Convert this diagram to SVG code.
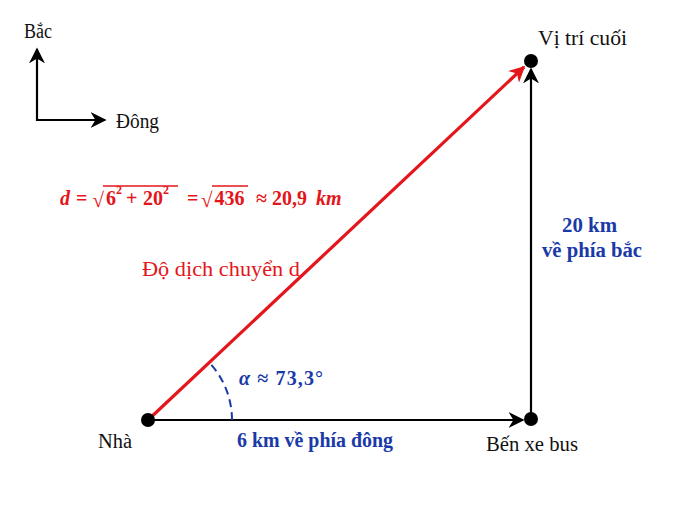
<svg xmlns="http://www.w3.org/2000/svg" width="693" height="519" viewBox="0 0 693 519">
<style>
text{font-family:"Liberation Serif","DejaVu Serif",serif;}
.lbl{font-size:20px;fill:#111;}
.blue{font-size:20px;fill:#1a3aa8;font-weight:bold;}
.red{fill:#e4161b;}
.f{font-size:20px;font-weight:bold;}
.sup{font-size:12px;font-weight:bold;}
.rad{font-size:21px;font-weight:normal;}
.blk{stroke:#000;stroke-width:2.2;fill:none;}
</style>
<defs>
<marker id="ahb" viewBox="0 0 10 10" refX="9" refY="5" markerWidth="16" markerHeight="16" markerUnits="userSpaceOnUse" orient="auto"><path d="M0,0 L10,5 L0,10 L3,5 Z" fill="#000"/></marker>
<marker id="ahr" viewBox="0 0 10 10" refX="9" refY="5" markerWidth="16" markerHeight="16" markerUnits="userSpaceOnUse" orient="auto"><path d="M0,0 L10,5 L0,10 L3,5 Z" fill="#e4161b"/></marker>
</defs>
<rect width="693" height="519" fill="#fff"/>
<g id="compass">
<line x1="37" y1="121" x2="37" y2="49" class="blk" marker-end="url(#ahb)"/>
<line x1="36" y1="120" x2="105" y2="120" class="blk" marker-end="url(#ahb)"/>
<text x="24" y="38" class="lbl" textLength="28" lengthAdjust="spacingAndGlyphs">Bắc</text>
<text x="116" y="128" class="lbl" textLength="43" lengthAdjust="spacingAndGlyphs">Đông</text>
</g>
<g id="connectors">
<line x1="148" y1="420" x2="523" y2="420" class="blk" marker-end="url(#ahb)"/>
<line x1="531" y1="419" x2="531" y2="69" class="blk" marker-end="url(#ahb)"/>
<line x1="148" y1="420" x2="524" y2="67" stroke="#e4161b" stroke-width="3.2" marker-end="url(#ahr)"/>
<path d="M232,420 A84,84 0 0 0 209.2,362.5" fill="none" stroke="#1a3aa8" stroke-width="2" stroke-dasharray="8,5"/>
</g>
<g id="nha">
<circle cx="148" cy="420" r="7" fill="#000"/>
<text x="98" y="448" class="lbl" textLength="34" lengthAdjust="spacingAndGlyphs">Nhà</text>
</g>
<g id="benxe">
<circle cx="531" cy="419" r="7" fill="#000"/>
<text x="486" y="451" class="lbl" textLength="92" lengthAdjust="spacingAndGlyphs">Bến xe bus</text>
</g>
<g id="vitri">
<circle cx="531" cy="61" r="7" fill="#000"/>
<text x="538" y="45" class="lbl" textLength="89" lengthAdjust="spacingAndGlyphs">Vị trí cuối</text>
</g>
<g id="labels">
<text x="237" y="447" class="blue" textLength="156" lengthAdjust="spacingAndGlyphs">6 km về phía đông</text>
<text x="562" y="232" class="blue" textLength="55" lengthAdjust="spacingAndGlyphs">20 km</text>
<text x="542" y="257" class="blue" textLength="100" lengthAdjust="spacingAndGlyphs">về phía bắc</text>
<text x="239" y="385" class="blue" textLength="84" lengthAdjust="spacing"><tspan font-style="italic">α</tspan> ≈ 73,3°</text>
<text x="142" y="276" class="red" font-size="20" textLength="158" lengthAdjust="spacingAndGlyphs">Độ dịch chuyển d</text>
</g>
<g id="formula">
<text class="red f" y="205"><tspan x="60" font-style="italic">d</tspan><tspan x="76">=</tspan><tspan x="92.5" y="207" class="rad">√</tspan><tspan x="106" y="205">6</tspan><tspan x="116" y="194" class="sup">2</tspan><tspan x="126" y="205">+</tspan><tspan x="143">20</tspan><tspan x="163" y="194" class="sup">2</tspan><tspan x="187" y="205">=</tspan><tspan x="201" y="207" class="rad">√</tspan><tspan x="214.5" y="205">436</tspan><tspan x="256">≈</tspan><tspan x="272">20,9</tspan><tspan x="316" font-style="italic">km</tspan></text>
<line x1="103" y1="186" x2="178" y2="186" stroke="#e4161b" stroke-width="1.5"/>
<line x1="212" y1="186" x2="248" y2="186" stroke="#e4161b" stroke-width="1.5"/>
</g>
</svg>
